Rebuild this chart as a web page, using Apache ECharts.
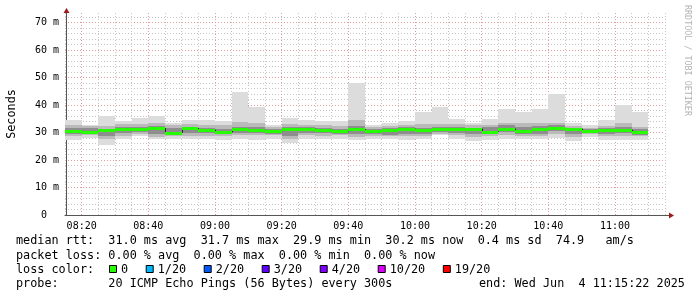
<!DOCTYPE html>
<html>
<head>
<meta charset="utf-8">
<script src="https://cdn.jsdelivr.net/npm/echarts@6/dist/echarts.min.js"></script>
<style>
  html, body { margin: 0; padding: 0; background: #fff; }
  #smoke { width: 697px; height: 297px; }
</style>
</head>
<body>
<div id="smoke"></div>
<script>
// 5 minute steps, start of each step
var blockStart = ['08:15', '08:20', '08:25', '08:30', '08:35', '08:40', '08:45', '08:50', '08:55',
  '09:00', '09:05', '09:10', '09:15', '09:20', '09:25', '09:30', '09:35', '09:40', '09:45',
  '09:50', '09:55', '10:00', '10:05', '10:10', '10:15', '10:20', '10:25', '10:30', '10:35',
  '10:40', '10:45', '10:50', '10:55', '11:00', '11:05'];
// median rtt (ms)
var median = [30.6, 30.3, 30.9, 31.2, 31.2, 31.6, 29.9, 31.6, 31.0, 30.1, 31.2, 31.0, 30.5, 31.3,
  31.4, 31.0, 30.4, 31.2, 30.6, 31.0, 31.4, 30.8, 31.2, 31.4, 31.4, 30.3, 31.4, 30.7, 31.3,
  31.7, 31.4, 30.6, 31.0, 31.0, 30.2];
// smoke: outer band (min / max ping)
var outerHi = [34.5, 32.7, 36.0, 34.1, 35.4, 36.0, 33.4, 34.5, 34.5, 34.1, 44.8, 39.3, 32.9, 35.4,
  34.5, 34.1, 34.1, 48.0, 32.9, 33.6, 34.1, 37.5, 39.3, 35.0, 33.4, 35.0, 38.5, 37.5, 38.7,
  44.2, 33.4, 32.9, 34.5, 40.0, 37.3];
var outerLo = [27.2, 28.0, 25.6, 27.5, 28.8, 27.5, 27.8, 27.8, 27.5, 27.2, 27.8, 27.2, 27.8, 26.3,
  27.8, 27.5, 27.8, 27.2, 27.8, 27.8, 27.2, 27.5, 29.0, 27.8, 26.8, 27.2, 27.8, 27.8, 27.5,
  28.0, 26.8, 28.5, 27.2, 27.2, 27.2];
// smoke: middle band
var midHi = [32.7, 32.4, 32.4, 33.0, 33.2, 33.5, 32.6, 33.2, 32.6, 32.6, 34.0, 33.5, 32.2, 33.2,
  32.8, 32.6, 32.5, 34.5, 32.2, 32.4, 32.8, 33.0, 33.2, 33.0, 32.6, 32.8, 33.4, 33.6, 33.6,
  33.5, 32.4, 31.8, 32.4, 33.4, 32.2];
var midLo = [28.6, 29.0, 27.8, 28.8, 29.6, 28.5, 28.8, 28.8, 28.8, 28.6, 29.0, 29.0, 29.0, 27.6,
  29.0, 28.8, 29.0, 28.4, 28.8, 28.6, 28.6, 28.8, 29.6, 29.0, 28.2, 28.8, 29.2, 28.8, 28.6,
  29.4, 28.4, 29.4, 28.6, 28.8, 28.6];
// smoke: inner band
var innerHi = [31.8, 31.6, 31.2, 32.0, 32.2, 32.4, 31.6, 32.2, 31.8, 31.4, 32.2, 32.0, 31.4, 32.2,
  32.0, 31.8, 31.4, 32.4, 31.4, 31.6, 32.0, 31.6, 32.2, 32.0, 31.8, 32.0, 32.6, 32.0, 32.4,
  32.6, 31.8, 31.2, 31.6, 32.0, 31.2];
var innerLo = [29.5, 29.7, 28.8, 29.8, 30.3, 29.6, 29.4, 29.8, 29.8, 29.4, 30.0, 30.0, 29.6, 28.6,
  30.0, 29.8, 29.6, 29.6, 29.6, 29.2, 29.6, 29.4, 30.2, 30.0, 29.6, 29.6, 30.2, 29.6, 29.6,
  30.4, 29.6, 29.8, 29.6, 29.8, 29.2];

var yTicks = [0, 10, 20, 30, 40, 50, 60, 70];
var lossLabels = ['0', '1/20', '2/20', '3/20', '4/20', '10/20', '19/20'];
var lossColors = ['#26ff00', '#00b8ff', '#0059ff', '#5e00ff', '#7e00ff', '#dd00ff', '#ff0000'];
var statLines = [
  'median rtt:  31.0 ms avg  31.7 ms max  29.9 ms min  30.2 ms now  0.4 ms sd  74.9   am/s',
  'packet loss: 0.00 % avg  0.00 % max  0.00 % min  0.00 % now',
  'loss color:',
  'probe:       20 ICMP Echo Pings (56 Bytes) every 300s'
];
var endText = 'end: Wed Jun  4 11:15:22 2025';

function toMin(s) {
  var p = s.split(':');
  return +p[0] * 60 + +p[1];
}
function fmtTime(v) {
  var h = Math.floor(v / 60), m = Math.round(v % 60);
  return (h < 10 ? '0' : '') + h + ':' + (m < 10 ? '0' : '') + m;
}

var STEP = 5;
var smokeData = [], medianData = [];
for (var i = 0; i < blockStart.length; i++) {
  var t = toMin(blockStart[i]);
  smokeData.push([t, t + STEP, outerLo[i], outerHi[i], midLo[i], midHi[i], innerLo[i], innerHi[i]]);
  medianData.push([t, t + STEP, median[i], i > 0 ? median[i - 1] : median[i]]);
}

var FONT = '"DejaVu Sans Mono", monospace';
var GREY = '#c6c6c6', RED = '#e39a9a';

function renderSmoke(params, api) {
  var bands = [[2, 3, '#dcdcdc'], [4, 5, '#bababa'], [6, 7, '#8e8e8e']];
  var t0 = api.value(0), t1 = api.value(1);
  return {
    type: 'group',
    children: bands.map(function (b) {
      var a = api.coord([t0, api.value(b[1])]);
      var c = api.coord([t1, api.value(b[0])]);
      var x0 = Math.round(a[0]), x1 = Math.round(c[0]);
      var y0 = Math.round(a[1]), y1 = Math.round(c[1]);
      return {
        type: 'rect',
        shape: { x: x0, y: y0, width: x1 - x0, height: y1 - y0 },
        style: { fill: b[2] }
      };
    })
  };
}

function renderMedian(params, api) {
  var a = api.coord([api.value(0), api.value(2)]);
  var b = api.coord([api.value(1), api.value(2)]);
  var p = api.coord([api.value(0), api.value(3)]);
  var x0 = Math.round(a[0]), x1 = Math.round(b[0]);
  return {
    type: 'group',
    children: [
      { type: 'line', shape: { x1: x0 + 0.5, y1: p[1], x2: x0 + 0.5, y2: a[1] },
        style: { stroke: '#222', lineWidth: 1 } },
      { type: 'line', shape: { x1: x0, y1: Math.round(a[1]) + 0.5, x2: x1, y2: Math.round(a[1]) + 0.5 },
        style: { stroke: lossColors[0], lineWidth: 3 } }
    ]
  };
}

// legend text + boxes below the plot
var graphics = [];
var lineY = [241, 255.5, 269.5, 283.5];
statLines.forEach(function (s, k) {
  graphics.push({ type: 'text', x: 16, y: lineY[k],
    style: { text: s, font: '11.8px ' + FONT, fill: '#000', textVerticalAlign: 'middle', verticalAlign: 'middle' } });
});
graphics.push({ type: 'text', x: 479, y: lineY[3],
  style: { text: endText, font: '11.8px ' + FONT, fill: '#000', textVerticalAlign: 'middle', verticalAlign: 'middle' } });
var lx = 109;
lossLabels.forEach(function (lab, k) {
  graphics.push({ type: 'rect', shape: { x: lx + 0.5, y: 265.5, width: 7, height: 7 },
    style: { fill: lossColors[k], stroke: '#000', lineWidth: 1 } });
  graphics.push({ type: 'text', x: lx + 12, y: lineY[2],
    style: { text: lab, font: '11.8px ' + FONT, fill: '#000', textVerticalAlign: 'middle', verticalAlign: 'middle' } });
  lx += 29.6 + 7.1 * lab.length;
});
// watermark
graphics.push({ type: 'text', x: 687, y: 5, rotation: -Math.PI / 2,
  style: { text: 'RRDTOOL / TOBI OETIKER', font: '8.4px ' + FONT, fill: '#b4b4b4', textVerticalAlign: 'middle', verticalAlign: 'middle' } });
// axis arrows
graphics.push({ type: 'polygon', shape: { points: [[63.5, 13], [69.5, 13], [66.5, 8]] }, style: { fill: '#9e1b1b' } });
graphics.push({ type: 'line', shape: { x1: 665, y1: 215.5, x2: 669, y2: 215.5 }, style: { stroke: '#555', lineWidth: 1 } });
graphics.push({ type: 'polygon', shape: { points: [[669, 212.5], [669, 218.5], [674, 215.5]] }, style: { fill: '#9e1b1b' } });

var chart = echarts.init(document.getElementById('smoke'), null, { renderer: 'canvas' });
chart.setOption({
  animation: false,
  backgroundColor: '#fff',
  grid: { left: 65, right: 32, top: 13, bottom: 82, containLabel: false, outerBoundsMode: 'none' },
  xAxis: {
    type: 'value',
    min: toMin('08:15'), max: toMin('11:15'), interval: STEP,
    axisLine: { lineStyle: { color: '#555', width: 1 } },
    axisTick: { show: false },
    axisLabel: {
      margin: 6, color: '#000', fontFamily: FONT, fontSize: 10,
      formatter: function (v) { return (Math.round(v) % 20 === 0) ? fmtTime(v) : ''; }
    },
    splitLine: { show: true, lineStyle: { color: [GREY, RED, GREY, GREY], type: [1, 2], width: 1 } }
  },
  yAxis: {
    type: 'value',
    min: 0, max: 73.5, interval: 2,
    offset: -1,
    name: 'Seconds', nameLocation: 'middle', nameRotate: 90, nameGap: 48,
    nameTextStyle: { color: '#000', fontFamily: FONT, fontSize: 11.8 },
    axisLine: { show: true, lineStyle: { color: '#555', width: 1 } },
    axisTick: { show: false },
    axisLabel: {
      margin: 7, color: '#000', fontFamily: FONT, fontSize: 10,
      formatter: function (v) {
        if (yTicks.indexOf(v) < 0) return '';
        return v === 0 ? '0  ' : v + ' m';
      }
    },
    splitLine: { show: true, showMaxLine: false, lineStyle: { color: [RED, GREY, GREY, GREY, GREY], type: [1, 2], width: 1 } }
  },
  graphic: graphics,
  series: [
    { type: 'custom', name: 'smoke', renderItem: renderSmoke, data: smokeData, z: 3,
      encode: { x: [0, 1], y: [2, 3] }, silent: true },
    { type: 'custom', name: 'median', renderItem: renderMedian, data: medianData, z: 4,
      encode: { x: [0, 1], y: 2 }, silent: true }
  ]
});
</script>
</body>
</html>
